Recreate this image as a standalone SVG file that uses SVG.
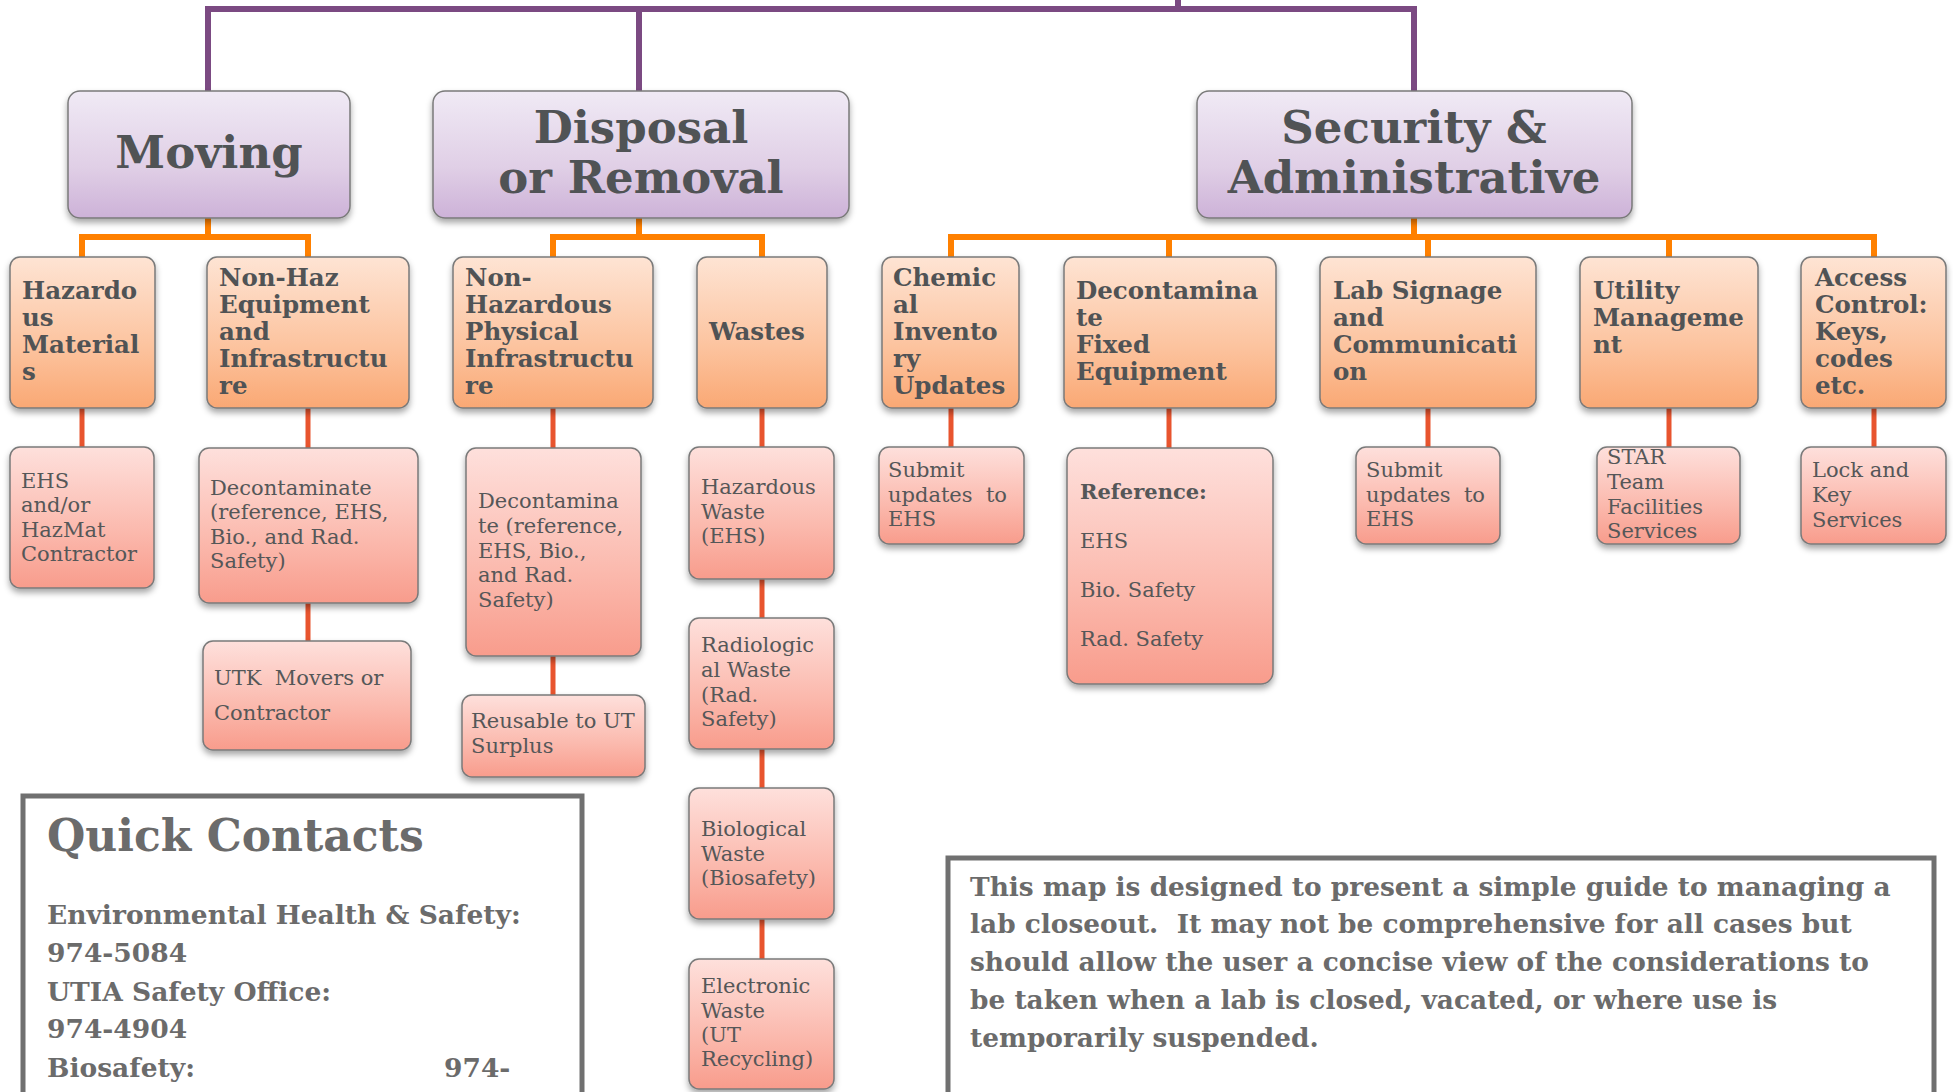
<svg xmlns="http://www.w3.org/2000/svg" width="1953" height="1092" viewBox="0 0 1953 1092">
<defs>
<linearGradient id="gP" x1="0" y1="0" x2="0" y2="1"><stop offset="0" stop-color="#F0EAF5"/><stop offset="0.6" stop-color="#E0CFE6"/><stop offset="1" stop-color="#CDB2D8"/></linearGradient>
<linearGradient id="gO" x1="0" y1="0" x2="0" y2="1"><stop offset="0" stop-color="#FEE4D4"/><stop offset="0.6" stop-color="#FCC39E"/><stop offset="1" stop-color="#FAA874"/></linearGradient>
<linearGradient id="gR" x1="0" y1="0" x2="0" y2="1"><stop offset="0" stop-color="#FEE0DC"/><stop offset="0.6" stop-color="#FBB9AD"/><stop offset="1" stop-color="#F89C8C"/></linearGradient>
<filter id="sh" x="-10%" y="-10%" width="120%" height="130%"><feDropShadow dx="0" dy="4" stdDeviation="3" flood-color="#000" flood-opacity="0.35"/></filter>
<style>
.b1{fill:url(#gP);stroke:#7a7a7a;stroke-width:1.5;filter:url(#sh)}
.b2{fill:url(#gO);stroke:#7a7a7a;stroke-width:1.5;filter:url(#sh)}
.b3{fill:url(#gR);stroke:#7a7a7a;stroke-width:1.5;filter:url(#sh)}
.t1{font-family:"DejaVu Serif",serif;font-weight:bold;font-size:45px;fill:#505355;text-anchor:middle}
.t2{font-family:"DejaVu Serif",serif;font-weight:bold;font-size:24.5px;fill:#505355}
.t3{font-family:"DejaVu Serif",serif;font-size:21px;fill:#555758}
.cp{fill:none;stroke:#7B4A82;stroke-width:6}
.co{fill:none;stroke:#FF8000;stroke-width:6}
.cr{fill:none;stroke:#E8542E;stroke-width:5}
.qt{font-family:"DejaVu Serif",serif;font-weight:bold;fill:#6b6b6b}
.frame{fill:#fff;stroke:#707070;stroke-width:5}
</style>
</defs>
<rect width="1953" height="1092" fill="#fff"/>
<g id="connectors">
<path class="cp" d="M1178 0V9M208 91V9H1414V91M639 9V91"/>
<path class="co" d="M208 218V237M82 257V237H308V257"/>
<path class="co" d="M639 218V237M553 257V237H762V257"/>
<path class="co" d="M1414 218V237M951 257V237H1874V257M1169 237V257M1428 237V257M1669 237V257"/>
<path class="cr" d="M82 408V447M308 408V448M308 603V641M553 408V448M553 656V695M762 408V447M762 579V618M762 749V788M762 919V959"/>
<path class="cr" d="M951 408V447M1169 408V448M1428 408V447M1669 408V447M1874 408V447"/>
</g>
<g id="n-moving"><rect class="b1" x="68" y="91" width="282" height="127" rx="12"/><text class="t1" x="209" y="168">Moving</text></g>
<g id="n-disposal"><rect class="b1" x="433" y="91" width="416" height="127" rx="12"/><text class="t1" x="641" y="143">Disposal</text><text class="t1" x="641" y="193">or Removal</text></g>
<g id="n-security"><rect class="b1" x="1197" y="91" width="435" height="127" rx="12"/><text class="t1" x="1414" y="143">Security &amp;</text><text class="t1" x="1414" y="193">Administrative</text></g>

<g id="n-hazmat"><rect class="b2" x="10" y="257" width="145" height="151" rx="10"/><text class="t2" x="22" y="299">Hazardo</text><text class="t2" x="22" y="326">us</text><text class="t2" x="22" y="353">Material</text><text class="t2" x="22" y="380">s</text></g>
<g id="n-nonhazequip"><rect class="b2" x="207" y="257" width="202" height="151" rx="10"/><text class="t2" x="219" y="286">Non-Haz</text><text class="t2" x="219" y="313">Equipment</text><text class="t2" x="219" y="340">and</text><text class="t2" x="219" y="367">Infrastructu</text><text class="t2" x="219" y="394">re</text></g>
<g id="n-nonhazphys"><rect class="b2" x="453" y="257" width="200" height="151" rx="10"/><text class="t2" x="465" y="286">Non-</text><text class="t2" x="465" y="313">Hazardous</text><text class="t2" x="465" y="340">Physical</text><text class="t2" x="465" y="367">Infrastructu</text><text class="t2" x="465" y="394">re</text></g>
<g id="n-wastes"><rect class="b2" x="697" y="257" width="130" height="151" rx="10"/><text class="t2" x="709" y="340">Wastes</text></g>
<g id="n-cheminv"><rect class="b2" x="882" y="257" width="137" height="151" rx="10"/><text class="t2" x="893" y="286">Chemic</text><text class="t2" x="893" y="313">al</text><text class="t2" x="893" y="340">Invento</text><text class="t2" x="893" y="367">ry</text><text class="t2" x="893" y="394">Updates</text></g>
<g id="n-deconfixed"><rect class="b2" x="1064" y="257" width="212" height="151" rx="10"/><text class="t2" x="1076" y="299">Decontamina</text><text class="t2" x="1076" y="326">te</text><text class="t2" x="1076" y="353">Fixed</text><text class="t2" x="1076" y="380">Equipment</text></g>
<g id="n-labsign"><rect class="b2" x="1320" y="257" width="216" height="151" rx="10"/><text class="t2" x="1333" y="299">Lab Signage</text><text class="t2" x="1333" y="326">and</text><text class="t2" x="1333" y="353">Communicati</text><text class="t2" x="1333" y="380">on</text></g>
<g id="n-utility"><rect class="b2" x="1580" y="257" width="178" height="151" rx="10"/><text class="t2" x="1593" y="299">Utility</text><text class="t2" x="1593" y="326">Manageme</text><text class="t2" x="1593" y="353">nt</text></g>
<g id="n-access"><rect class="b2" x="1801" y="257" width="145" height="151" rx="10"/><text class="t2" x="1815" y="286">Access</text><text class="t2" x="1815" y="313">Control:</text><text class="t2" x="1815" y="340">Keys,</text><text class="t2" x="1815" y="367">codes</text><text class="t2" x="1815" y="394">etc.</text></g>

<g id="n-ehs"><rect class="b3" x="10" y="447" width="144" height="141" rx="10"/><text class="t3" x="21" y="488">EHS</text><text class="t3" x="21" y="512">and/or</text><text class="t3" x="21" y="537">HazMat</text><text class="t3" x="21" y="561">Contractor</text></g>
<g id="n-decon1"><rect class="b3" x="199" y="448" width="219" height="155" rx="10"/><text class="t3" x="210" y="495">Decontaminate</text><text class="t3" x="210" y="519">(reference, EHS,</text><text class="t3" x="210" y="544">Bio., and Rad.</text><text class="t3" x="210" y="568">Safety)</text></g>
<g id="n-utk"><rect class="b3" x="203" y="641" width="208" height="109" rx="10"/><text class="t3" x="214" y="685" xml:space="preserve">UTK  Movers or</text><text class="t3" x="214" y="720">Contractor</text></g>
<g id="n-decon2"><rect class="b3" x="466" y="448" width="175" height="208" rx="10"/><text class="t3" x="478" y="508">Decontamina</text><text class="t3" x="478" y="533">te (reference,</text><text class="t3" x="478" y="558">EHS, Bio.,</text><text class="t3" x="478" y="582">and Rad.</text><text class="t3" x="478" y="607">Safety)</text></g>
<g id="n-reusable"><rect class="b3" x="462" y="695" width="183" height="82" rx="10"/><text class="t3" x="471" y="728">Reusable to UT</text><text class="t3" x="471" y="753">Surplus</text></g>
<g id="n-hazwaste"><rect class="b3" x="689" y="447" width="145" height="132" rx="10"/><text class="t3" x="701" y="494">Hazardous</text><text class="t3" x="701" y="519">Waste</text><text class="t3" x="701" y="543">(EHS)</text></g>
<g id="n-radwaste"><rect class="b3" x="689" y="618" width="145" height="131" rx="10"/><text class="t3" x="701" y="652">Radiologic</text><text class="t3" x="701" y="677">al Waste</text><text class="t3" x="701" y="702">(Rad.</text><text class="t3" x="701" y="726">Safety)</text></g>
<g id="n-biowaste"><rect class="b3" x="689" y="788" width="145" height="131" rx="10"/><text class="t3" x="701" y="836">Biological</text><text class="t3" x="701" y="861">Waste</text><text class="t3" x="701" y="885">(Biosafety)</text></g>
<g id="n-ewaste"><rect class="b3" x="689" y="959" width="145" height="130" rx="10"/><text class="t3" x="701" y="993">Electronic</text><text class="t3" x="701" y="1018">Waste</text><text class="t3" x="701" y="1042">(UT</text><text class="t3" x="701" y="1066">Recycling)</text></g>
<g id="n-submit1"><rect class="b3" x="879" y="447" width="145" height="97" rx="10"/><text class="t3" x="888" y="477">Submit</text><text class="t3" x="888" y="502" xml:space="preserve">updates  to</text><text class="t3" x="888" y="526">EHS</text></g>
<g id="n-reference"><rect class="b3" x="1067" y="448" width="206" height="236" rx="12"/><text class="t3" x="1080" y="499" font-weight="bold">Reference:</text><text class="t3" x="1080" y="548">EHS</text><text class="t3" x="1080" y="597">Bio. Safety</text><text class="t3" x="1080" y="646">Rad. Safety</text></g>
<g id="n-submit2"><rect class="b3" x="1356" y="447" width="144" height="97" rx="10"/><text class="t3" x="1366" y="477">Submit</text><text class="t3" x="1366" y="502" xml:space="preserve">updates  to</text><text class="t3" x="1366" y="526">EHS</text></g>
<g id="n-star"><rect class="b3" x="1597" y="447" width="143" height="97" rx="10"/><text class="t3" x="1607" y="464">STAR</text><text class="t3" x="1607" y="489">Team</text><text class="t3" x="1607" y="514">Facilities</text><text class="t3" x="1607" y="538">Services</text></g>
<g id="n-lock"><rect class="b3" x="1801" y="447" width="145" height="97" rx="10"/><text class="t3" x="1812" y="477">Lock and</text><text class="t3" x="1812" y="502">Key</text><text class="t3" x="1812" y="527">Services</text></g>

<g id="quick-contacts"><rect class="frame" x="23" y="796" width="559" height="310"/><text class="qt" x="47" y="851" font-size="44">Quick Contacts</text><text class="qt" x="47" y="924" font-size="26.5">Environmental Health &amp; Safety:</text><text class="qt" x="47" y="962" font-size="26.5">974-5084</text><text class="qt" x="47" y="1001" font-size="26.5">UTIA Safety Office:</text><text class="qt" x="47" y="1038" font-size="26.5">974-4904</text><text class="qt" x="47" y="1077" font-size="26.5">Biosafety:</text><text class="qt" x="444" y="1077" font-size="26.5">974-</text></g>
<g id="description"><rect class="frame" x="948" y="858" width="986" height="250"/><text class="qt" font-size="26.4" x="970" y="896">This map is designed to present a simple guide to managing a</text><text class="qt" font-size="26.4" x="970" y="933" xml:space="preserve">lab closeout.  It may not be comprehensive for all cases but</text><text class="qt" font-size="26.4" x="970" y="971">should allow the user a concise view of the considerations to</text><text class="qt" font-size="26.4" x="970" y="1009">be taken when a lab is closed, vacated, or where use is</text><text class="qt" font-size="26.4" x="970" y="1047">temporarily suspended.</text></g>
</svg>
